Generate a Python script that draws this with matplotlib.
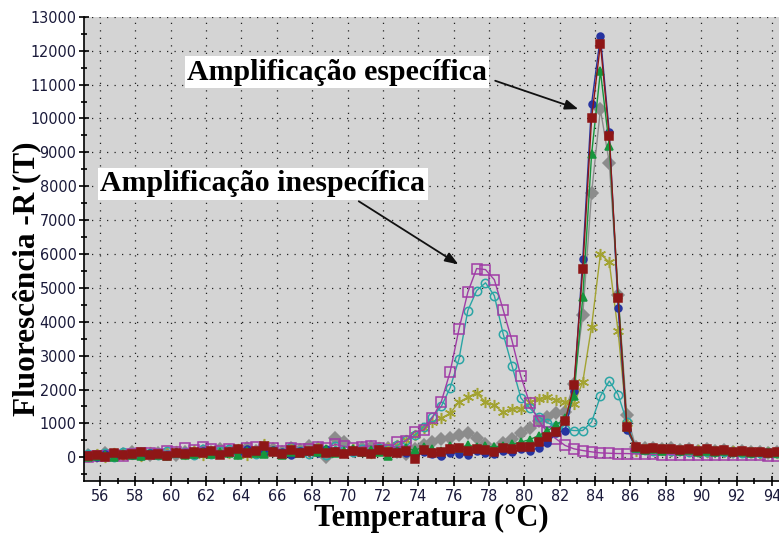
import numpy as np
import matplotlib
matplotlib.use("Agg")
import matplotlib.pyplot as plt
from matplotlib.ticker import MultipleLocator

# Melt curve readings, one every 0.5 degC
temperatura = np.arange(55.3, 94.31, 0.5)

azul = [60, 20, 90, 50, 110, 80, 40, 130, 100, 70,
        150, 120, 90, 180, 140, 110, 200, 160, 230, 180,
        130, 210, 170, 60, 190, 150, 120, 230, 180, 140,
        200, 160, 120, 230, 150,
        180, 120, 60, 160, 100, 50, 140, 110, 60, 180,
        140, 100, 200, 160, 230, 190, 280, 420, 720, 790,
        1950, 5840, 10430, 12420, 9600, 4400, 800,
        280, 230, 260, 210, 240, 190, 230, 180, 220, 160, 200, 150, 180, 140, 160, 120, 150]

vermelho = [30, 80, 10, 120, 60, 90, 150, 70, 110, 40,
            130, 90, 170, 120, 200, 60, 150, 230, 140, 190,
            320, 170, 90, 210, 140, 180, 250, 120, 160, 110,
            200, 150, 90, 220, 170,
            120, 190, -40, 210, 120, 160, 230, 280, 180, 240,
            210, 170, 270, 230, 310, 290, 450, 600, 760, 1060,
            2120, 5550, 10000, 12200, 9480, 4700, 900,
            300, 250, 270, 230, 250, 210, 240, 200, 230, 180, 210, 170, 190, 150, 170, 140, 160]

verde = [0, 40, 70, 20, 90, 60, 30, 110, 80, 50,
         120, 60, 100, 150, 90, 170, 130, 80, 190, 140,
         100, 180, 60, 150, 120, 200, 170, 230, 140, 190,
         250, 170, 210, 150, 30,
         180, 260, 210, 300, 250, 200, 330, 280, 360, 300,
         330, 300, 340, 380, 450, 520, 640, 780, 950, 1150,
         1800, 4720, 8940, 11400, 9200, 4800, 900,
         260, 220, 240, 200, 230, 180, 210, 170, 200, 160, 190, 150, 170, 130, 150, 120, 140]

cinza = [80, 40, 120, 60, 100, 150, 90, 60, 140, 110,
         70, 160, 120, 200, 150, 240, 180, 130, 260, 200,
         300, 230, 170, 280, 210, 330, 260, 0, 580, 450,
         200, 260, 300, 240, 280,
         150, 100, 250, 350, 450, 530, 580, 650, 720, 580,
         390, 240, 430, 530, 720, 870, 1060, 1180, 1300, 1350,
         2170, 4200, 7800, 10270, 8700, 4800, 1240,
         300, 260, 280, 240, 260, 220, 250, 200, 230, 190, 210, 170, 190, 150, 170, 140, 160]

oliva = [40, 90, 20, 130, 70, 110, 50, 160, 90, 130,
         180, 100, 220, 60, 150, 190, 120, 240, 80, 170,
         380, 200, 140, 230, 180, 130, 260, 190, 220, 160,
         250, 190, 140, 300, 260,
         350, 500, 650, 850, 1050, 1150, 1300, 1630, 1770, 1900,
         1630, 1530, 1330, 1430, 1430, 1630, 1720, 1770, 1680, 1630,
         1580, 2220, 3860, 6000, 5760, 3720, 1000,
         200, 230, 210, 240, 190, 220, 180, 210, 170, 200, 160, 190, 150, 170, 140, 160, 130]

ciano = [90, 50, 130, 20, 160, 110, 60, 140, 80, 200,
         120, 170, 60, 230, 100, 190, 250, 150, 210, 90,
         260, 180, 140, 300, 190, 100, 240, 60, 320, 210,
         150, 230, 170, 260, 240,
         350, 500, 650, 900, 1200, 1500, 2050, 2900, 4330, 4920,
         5150, 4770, 3640, 2700, 1750, 1450, 1200, 1020, 920, 830,
         790, 790, 1040, 1800, 2250, 1850, 1040,
         250, 220, 200, 230, 180, 210, 170, 200, 160, 190, 150, 170, 140, 160, 130, 150, 120]

roxo = [20, 40, 30, 60, 50, 90, 140, 120, 100, 180,
        150, 260, 220, 300, 250, 180, 230, 200, 260, 300,
        240, 280, 200, 260, 230, 250, 290, 260, 380, 320,
        260, 300, 340, 280, 220,
        450, 480, 760, 800, 1170, 1640, 2520, 3780, 4870, 5570,
        5540, 5240, 4350, 3440, 2390, 1590, 1080, 740, 540, 350,
        250, 200, 160, 130, 120, 110, 110,
        100, 90, 90, 80, 80, 80, 70, 80, 70, 70, 70, 60, 60, 60, 60, 50, 50]

fig = plt.figure(figsize=(7.79, 5.36), dpi=100)
ax = fig.add_axes([0.108, 0.1026, 0.892, 0.866])
ax.set_facecolor("#d4d4d4")

# (values, color, marker, size, filled)
series = [
    (cinza, "#8c8c8c", "D", 6, True),
    (oliva, "#a3a332", (6, 2, 0), 8, False),
    (ciano, "#2aa5a5", "o", 6, False),
    (roxo, "#a03ca6", "s", 7, False),
    (azul, "#2633a0", "o", 5, True),
    (verde, "#16953c", "^", 6, True),
    (vermelho, "#8e1616", "s", 5.5, True),
]

for vals, cor, mk, ms, cheio in series:
    ax.plot(temperatura, vals, color=cor, lw=1.0, marker=mk, ms=ms,
            markerfacecolor=cor if cheio else "none",
            markeredgecolor=cor, markeredgewidth=1.1)

ax.set_xlim(55.1, 94.4)
ax.set_ylim(-700, 13000)
ax.xaxis.set_major_locator(MultipleLocator(2))
ax.xaxis.set_minor_locator(MultipleLocator(1))
ax.yaxis.set_major_locator(MultipleLocator(1000))
ax.yaxis.set_minor_locator(MultipleLocator(500))

ax.grid(True, which="major", color="#222222", linestyle=(0, (1, 5)), lw=0.9)
ax.set_axisbelow(True)

for s in ["top", "right"]:
    ax.spines[s].set_visible(False)
for s in ["left", "bottom"]:
    ax.spines[s].set_color("black")
    ax.spines[s].set_linewidth(1.2)

ax.tick_params(which="major", direction="inout", length=7, width=1.2, colors="black",
               labelcolor="#1a1a3a", labelsize=11.5, pad=2)
ax.tick_params(which="minor", direction="inout", length=5, width=1.2, colors="black")
for lbl in ax.get_xticklabels() + ax.get_yticklabels():
    lbl.set_family("DejaVu Sans")
    lbl.set_stretch("condensed")

serif = ["Liberation Serif", "DejaVu Serif"]
ax.set_xlabel("Temperatura (°C)", family=serif, fontweight="bold", fontsize=22, labelpad=0)
ax.set_ylabel("Fluorescência -R'(T)", family=serif, fontweight="bold", fontsize=22.5)
ax.yaxis.set_label_coords(-0.062, 0.435)

caixa = dict(boxstyle="square,pad=0.08", facecolor="white", edgecolor="none")
ax.text(69.4, 11370, "Amplificação específica", family=serif, fontweight="bold",
        fontsize=21.5, ha="center", va="center", bbox=caixa)
ax.text(65.2, 8070, "Amplificação inespecífica", family=serif, fontweight="bold",
        fontsize=21.5, ha="center", va="center", bbox=caixa)

seta = dict(arrowstyle="-|>,head_length=0.8,head_width=0.3", color="#111111", lw=1.3)
ax.annotate("", xy=(83.2, 10250), xytext=(78.2, 11140), arrowprops=seta)
ax.annotate("", xy=(76.4, 5650), xytext=(70.5, 7600), arrowprops=seta)

fig.savefig("out.png", dpi=100)
